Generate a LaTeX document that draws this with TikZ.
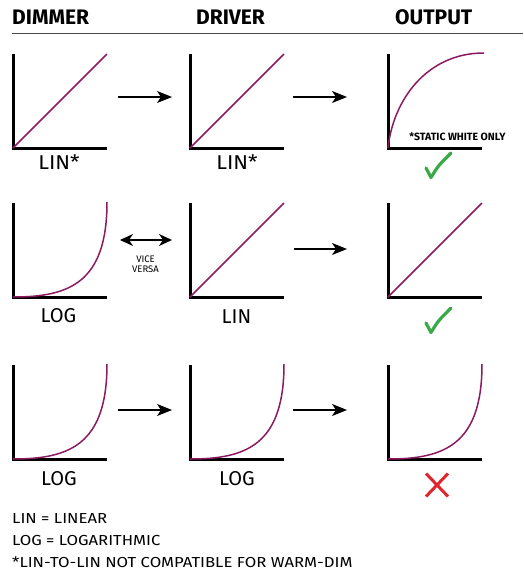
\documentclass[tikz,border=0pt]{standalone}
\usepackage{fontspec}
\setmainfont{Fira Sans}
\usetikzlibrary{arrows.meta,calc}
\definecolor{curvecol}{RGB}{140,26,96}
\definecolor{okgreen}{RGB}{58,170,72}
\definecolor{badred}{RGB}{222,38,45}
\definecolor{rulecol}{RGB}{70,70,70}
\newcommand{\widetxt}[1]{\scalebox{1.15}[1]{#1}}
\begin{document}
\begin{tikzpicture}[x=1pt,y=-1pt,
  graphbox/.style={minimum width=94pt,minimum height=94pt,inner sep=0pt,outer sep=0pt,anchor=north west},
  axis/.style={line width=3pt,black,line join=miter},
  crv/.style={line width=1.5pt,curvecol},
  lbl/.style={font=\fontsize{20}{20}\selectfont,inner sep=0pt},
  head/.style={font=\bfseries\fontsize{21}{21}\selectfont,inner sep=0pt,anchor=west},
  foot/.style={font=\fontsize{14.5}{14.5}\selectfont,inner sep=0pt,anchor=west},
  flow/.style={line width=1.2pt,-{Stealth[length=15pt,width=12pt,inset=4pt]}},
  twoway/.style={line width=1.2pt,{Stealth[length=13pt,width=12pt,inset=4pt]}-{Stealth[length=13pt,width=12pt,inset=4pt]}},
  tick/.style={okgreen,line width=3.2pt,line cap=round,line join=round},
  cross/.style={badred,line width=3pt}
]
\useasboundingbox (0,0) rectangle (523,571);

% header
\node[head] (hdim) at (12,17.5) {DIMMER};
\node[head] (hdrv) at (196,17.5) {DRIVER};
\node[head] (hout) at (395,17.5) {OUTPUT};
\coordinate (hl1) at (12,33.5);
\coordinate (hl2) at (523,33.5);
\draw[rulecol,line width=1.2pt] (hl1) -- (hl2);

% graph boxes
\node[graphbox] (g11) at (13,54) {};
\node[graphbox] (g12) at (190,54) {};
\node[graphbox] (g13) at (388,54) {};
\node[graphbox] (g21) at (13,203) {};
\node[graphbox] (g22) at (190,203) {};
\node[graphbox] (g23) at (388,203) {};
\node[graphbox] (g31) at (13,365) {};
\node[graphbox] (g32) at (190,365) {};
\node[graphbox] (g33) at (388,365) {};

% axes
\foreach \g in {g11,g12,g13,g21,g22,g23,g31,g32,g33}{
  \draw[axis] (\g.north west) -- (\g.south west) -- (\g.south east);
}

% linear curves
\foreach \g in {g11,g12,g22,g23}{
  \draw[crv] (\g.south west) -- (\g.north east);
}
% log curves
\foreach \g in {g21,g31,g32,g33}{
  \draw[crv] (\g.south west) .. controls ($(\g.south west)+(56,0)$) and ($(\g.north east)+(0,80)$) .. ($(\g.north east)+(0,-1)$);
}
% output static white curve
\draw[crv] (g13.south west) .. controls ($(g13.south west)+(5,-47)$) and ($(g13.north east)+(-56,-1)$) .. ($(g13.north east)+(2,-1)$);

% labels
\node[lbl] (l11) at (59,162.5) {\scalebox{1.08}[1]{LIN*}};
\node[lbl] (l12) at (237,162.5) {\scalebox{1.08}[1]{LIN*}};
\node[lbl] (l21) at (58.5,316) {LOG};
\node[lbl] (l22) at (236.5,317) {LIN};
\node[lbl] (l31) at (59,478.5) {LOG};
\node[lbl] (l32) at (237,478.5) {LOG};

\node[font=\bfseries\fontsize{10.5}{10.5}\selectfont,inner sep=0pt] (sw) at (457.5,136.5) {*STATIC WHITE ONLY};

% arrows
\coordinate (a11s) at (118,97);  \coordinate (a11e) at (172,97);
\coordinate (a12s) at (293,97);  \coordinate (a12e) at (347,97);
\coordinate (a21s) at (120,240); \coordinate (a21e) at (172,240);
\coordinate (a22s) at (294,249); \coordinate (a22e) at (347,249);
\coordinate (a31s) at (118,410); \coordinate (a31e) at (172,410);
\coordinate (a32s) at (293,410); \coordinate (a32e) at (347,410);
\draw[flow] (a11s) -- (a11e);
\draw[flow] (a12s) -- (a12e);
\draw[twoway] (a21s) -- (a21e);
\draw[flow] (a22s) -- (a22e);
\draw[flow] (a31s) -- (a31e);
\draw[flow] (a32s) -- (a32e);
\node[font=\fontsize{9.5}{10}\selectfont,inner sep=0pt,align=center] (vv) at (145.5,264.5) {VICE\\VERSA};

% checks
\coordinate (ck1) at (438,165);
\coordinate (ck2) at (438,320);
\foreach \c in {ck1,ck2}{
  \draw[tick] ($(\c)+(-12,3)$) -- ($(\c)+(-7,12.5)$) .. controls ($(\c)+(0,1)$) .. ($(\c)+(13,-12)$);
}
% cross
\coordinate (cx) at (437,485);
\draw[cross] ($(cx)+(-11,-11.5)$) -- ($(cx)+(11,11.5)$);
\draw[cross] ($(cx)+(11,-11.5)$) -- ($(cx)+(-11,11.5)$);

% footnotes
\node[foot] (f1) at (12,518) {\widetxt{LIN = LINEAR}};
\node[foot] (f2) at (12,540) {\widetxt{LOG = LOGARITHMIC}};
\node[foot] (f3) at (12,562) {\widetxt{*LIN-TO-LIN NOT COMPATIBLE FOR WARM-DIM}};
\end{tikzpicture}
\end{document}
